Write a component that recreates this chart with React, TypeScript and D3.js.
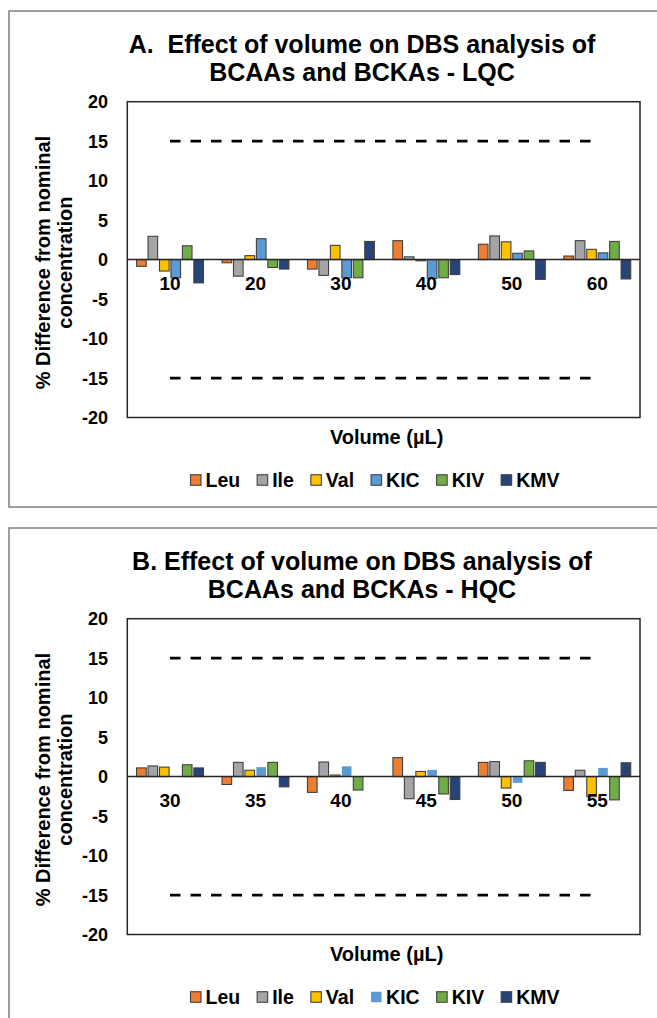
import React, { useEffect, useRef } from 'react';
import * as d3 from 'd3';

// Series shown in both panels
const seriesNames = ['Leu', 'Ile', 'Val', 'KIC', 'KIV', 'KMV'];
const seriesColors = ['#ED7D31', '#A5A5A5', '#FFC000', '#5B9BD5', '#70AD47', '#264478'];

// Panel A - LQC
const lqcVolumes = ['10', '20', '30', '40', '50', '60'];
const lqcLeu = [-0.85, -0.4, -1.2, 2.4, 1.95, 0.45];
const lqcIle = [2.95, -2.1, -2.0, 0.35, 3.0, 2.4];
const lqcVal = [-1.45, 0.5, 1.8, -0.15, 2.25, 1.3];
const lqcKIC = [-2.3, 2.65, -2.3, -2.4, 0.8, 0.85];
const lqcKIV = [1.75, -1.0, -2.3, -2.3, 1.1, 2.3];
const lqcKMV = [-2.95, -1.2, 2.3, -1.9, -2.5, -2.45];

// Panel B - HQC
const hqcVolumes = ['30', '35', '40', '45', '50', '55'];
const hqcLeu = [1.1, -1.0, -2.0, 2.4, 1.8, -1.75];
const hqcIle = [1.35, 1.8, 1.85, -2.8, 1.9, 0.8];
const hqcVal = [1.2, 0.8, 0.2, 0.65, -1.45, -2.55];
const hqcKIC = [null, 1.2, 1.3, 0.85, -0.8, 1.1];
const hqcKIV = [1.5, 1.8, -1.7, -2.2, 2.0, -2.95];
const hqcKMV = [1.1, -1.3, null, -2.9, 1.8, 1.75];

const yTicks = [-20, -15, -10, -5, 0, 5, 10, 15, 20];
const limits = [15, -15];

const panels = [
  {
    titleLines: ['A.  Effect of volume on DBS analysis of', 'BCAAs and BCKAs - LQC'],
    volumes: lqcVolumes,
    values: [lqcLeu, lqcIle, lqcVal, lqcKIC, lqcKIV, lqcKMV],
    kicOutline: true,
  },
  {
    titleLines: ['B. Effect of volume on DBS analysis of', 'BCAAs and BCKAs - HQC'],
    volumes: hqcVolumes,
    values: [hqcLeu, hqcIle, hqcVal, hqcKIC, hqcKIV, hqcKMV],
    kicOutline: false,
  },
];

const W = 657;
const H = 1018;
const FONT = '"Liberation Sans", Arial, sans-serif';
const panelTops = [11, 528];
const panelHeights = [496, 600];

const App = () => {
  const svgRef = useRef<SVGSVGElement | null>(null);

  useEffect(() => {
    if (!svgRef.current) return;
    const svg = d3.select(svgRef.current);
    svg.selectAll('*').remove();

    const plotLeft = 127.3;
    const plotRight = 640;

    panels.forEach((panel, pi) => {
      const top = panelTops[pi];
      const g = svg.append('g');

      // Panel frame (runs past the right edge)
      g.append('rect')
        .attr('x', 9)
        .attr('y', top)
        .attr('width', 700)
        .attr('height', panelHeights[pi])
        .attr('fill', '#fff')
        .attr('stroke', '#7f7f7f')
        .attr('stroke-width', 1.5);

      // Title
      panel.titleLines.forEach((line, i) => {
        g.append('text')
          .attr('x', 362)
          .attr('y', top + 42 + i * 28)
          .attr('text-anchor', 'middle')
          .attr('font-family', FONT)
          .attr('font-weight', 'bold')
          .attr('font-size', '25px')
          .attr('fill', '#000')
          .style('white-space', 'pre')
          .text(line);
      });

      const plotTop = top + 90.7;
      const plotBottom = top + 406.5;

      const x0 = d3.scaleBand().domain(panel.volumes).range([plotLeft, plotRight]).padding(0);
      const x1 = d3.scaleBand()
        .domain(seriesNames)
        .range([0, x0.bandwidth()])
        .paddingInner(0.16)
        .paddingOuter(0.81);
      const y = d3.scaleLinear().domain([-20, 20]).range([plotBottom, plotTop]);

      // Plot area box
      g.append('rect')
        .attr('x', plotLeft)
        .attr('y', plotTop)
        .attr('width', plotRight - plotLeft)
        .attr('height', plotBottom - plotTop)
        .attr('fill', 'none')
        .attr('stroke', '#262626')
        .attr('stroke-width', 1.5);

      // Y tick labels
      g.selectAll('.ytick')
        .data(yTicks)
        .enter()
        .append('text')
        .attr('x', 108)
        .attr('y', d => y(d) + 6.5)
        .attr('text-anchor', 'end')
        .attr('font-family', FONT)
        .attr('font-weight', 'bold')
        .attr('font-size', '18px')
        .attr('fill', '#000')
        .text(d => String(d));

      // Limit dashed lines
      const first = panel.volumes[0];
      const last = panel.volumes[panel.volumes.length - 1];
      limits.forEach(l => {
        g.append('line')
          .attr('x1', (x0(first) as number) + x0.bandwidth() / 2)
          .attr('x2', (x0(last) as number) + x0.bandwidth() / 2)
          .attr('y1', y(l))
          .attr('y2', y(l))
          .attr('stroke', '#000')
          .attr('stroke-width', 2.8)
          .attr('stroke-dasharray', '10.5,10');
      });

      // Bars
      panel.values.forEach((vals, si) => {
        const name = seriesNames[si];
        const outline = name !== 'KIC' || panel.kicOutline;
        g.selectAll(`.bar-${pi}-${si}`)
          .data(vals.map((v, i) => ({ v, cat: panel.volumes[i] })).filter(d => d.v !== null))
          .enter()
          .append('rect')
          .attr('x', d => (x0(d.cat) as number) + (x1(name) as number))
          .attr('y', d => y(Math.max(0, d.v as number)))
          .attr('width', x1.bandwidth())
          .attr('height', d => Math.abs(y(d.v as number) - y(0)))
          .attr('fill', seriesColors[si])
          .attr('stroke', outline ? '#404040' : 'none')
          .attr('stroke-width', 1.1);
      });

      // Zero axis line
      g.append('line')
        .attr('x1', plotLeft)
        .attr('x2', plotRight)
        .attr('y1', y(0))
        .attr('y2', y(0))
        .attr('stroke', '#262626')
        .attr('stroke-width', 1.5);

      // Category labels (sit on top of the bars)
      g.selectAll('.xtick')
        .data(panel.volumes)
        .enter()
        .append('text')
        .attr('x', d => (x0(d) as number) + x0.bandwidth() / 2)
        .attr('y', y(0) + 30.5)
        .attr('text-anchor', 'middle')
        .attr('font-family', FONT)
        .attr('font-weight', 'bold')
        .attr('font-size', '19px')
        .attr('fill', '#000')
        .text(d => d);

      // X axis title
      g.append('text')
        .attr('x', (plotLeft + plotRight) / 2 + 3)
        .attr('y', plotBottom + 26.5)
        .attr('text-anchor', 'middle')
        .attr('font-family', FONT)
        .attr('font-weight', 'bold')
        .attr('font-size', '20px')
        .attr('fill', '#000')
        .text('Volume (µL)');

      // Y axis title (two lines)
      const yMid = (plotTop + plotBottom) / 2 + 3;
      ['% Difference from nominal', 'concentration'].forEach((line, i) => {
        g.append('text')
          .attr('transform', `translate(${50 + i * 22},${yMid}) rotate(-90)`)
          .attr('text-anchor', 'middle')
          .attr('font-family', FONT)
          .attr('font-weight', 'bold')
          .attr('font-size', '20px')
          .attr('fill', '#000')
          .text(line);
      });

      // Legend
      const legendY = plotBottom + 62.5;
      const legend = g.append('g');
      const sq = 10.5;
      const gapText = 4.5;
      const gapItem = 17;
      let cursor = 0;
      seriesNames.forEach((name, si) => {
        const outline = name !== 'KIC' || panel.kicOutline;
        legend.append('rect')
          .attr('x', cursor)
          .attr('y', legendY - sq / 2)
          .attr('width', sq)
          .attr('height', sq)
          .attr('fill', seriesColors[si])
          .attr('stroke', outline ? '#404040' : 'none')
          .attr('stroke-width', 1.1);
        const t = legend.append('text')
          .attr('x', cursor + sq + gapText)
          .attr('y', legendY + 7)
          .attr('font-family', FONT)
          .attr('font-weight', 'bold')
          .attr('font-size', '19.5px')
          .attr('fill', '#000')
          .text(name);
        const tw = (t.node() as SVGTextElement).getComputedTextLength();
        cursor += sq + gapText + tw + gapItem;
      });
      const legendWidth = cursor - gapItem;
      legend.attr('transform', `translate(${375 - legendWidth / 2},0)`);
    });
  }, []);

  return (
    <svg
      ref={svgRef}
      width={W}
      height={H}
      style={{ position: 'absolute', left: 0, top: 0, background: '#fff' }}
    />
  );
};

export default App;
